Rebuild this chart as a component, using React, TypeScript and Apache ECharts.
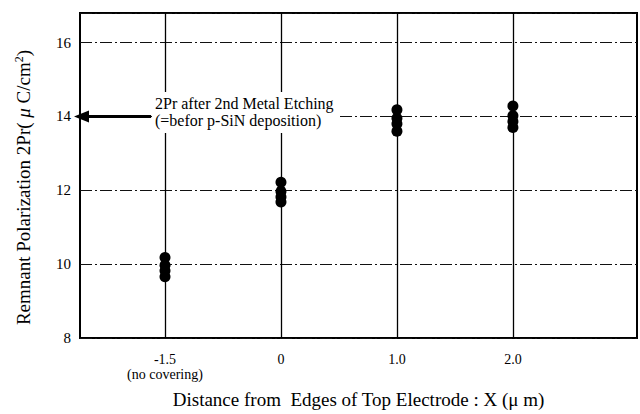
import React, { useEffect, useRef } from "react";
import * as echarts from "echarts";

const xPositions = [0, 1, 2, 3];
const xTickLabels = ["-1.5\n(no covering)", "0", "1.0", "2.0"];
const group0 = [10.18, 9.97, 9.82, 9.66];
const group1 = [12.22, 11.97, 11.82, 11.68];
const group2 = [14.18, 13.95, 13.8, 13.6];
const group3 = [14.28, 14.02, 13.86, 13.7];
const groups = [group0, group1, group2, group3];
const yTicks = [8, 10, 12, 14, 16];
const annotationLines = ["2Pr after 2nd Metal Etching", "(=befor p-SiN deposition)"];

const FONT = "Liberation Serif, Times New Roman, serif";

export default function App() {
  const ref = useRef<HTMLDivElement>(null);
  useEffect(() => {
    if (!ref.current) return;
    const chart = echarts.init(ref.current, undefined, { renderer: "svg" });
    const points: number[][] = [];
    groups.forEach((g, i) => g.forEach((v) => points.push([xPositions[i], v])));
    chart.setOption({
      animation: false,
      backgroundColor: "#ffffff",
      textStyle: { fontFamily: FONT, color: "#000" },
      grid: {
        left: 80,
        top: 13,
        right: 3,
        bottom: 73,
        show: true,
        borderColor: "#000",
        borderWidth: 2,
        containLabel: false,
      },
      xAxis: {
        type: "value",
        min: -0.733,
        max: 4.07,
        axisLine: { show: false },
        axisTick: { show: false },
        splitLine: { show: false },
        axisLabel: {
          customValues: xPositions,
          formatter: (v: number) => {
            const idx = xPositions.indexOf(Math.round(v));
            return idx >= 0 ? xTickLabels[idx] : "";
          },
          margin: 14,
          fontSize: 14,
          lineHeight: 15,
          color: "#000",
          fontFamily: FONT,
        },
        name: "Distance from  Edges of Top Electrode : X (\u03bc m)",
        nameLocation: "middle",
        nameGap: 52,
        nameTextStyle: { fontSize: 19, color: "#000", fontFamily: FONT },
      },
      yAxis: {
        type: "value",
        min: 8,
        max: 16.8,
        interval: 2,
        axisLine: { show: false },
        axisTick: { show: false },
        axisLabel: {
          customValues: yTicks,
          margin: 9,
          fontSize: 15,
          color: "#000",
          fontFamily: FONT,
        },
        splitLine: {
          show: true,
          lineStyle: { color: "#111", width: 1, type: [12, 3, 2, 3] },
        },
        name: "{n|Remnant Polarization 2Pr( }{i|\u03bc}{n| C/cm}{s|2}{n|)}",
        nameLocation: "middle",
        nameGap: 46,
        nameTextStyle: {
          fontSize: 19,
          color: "#000",
          fontFamily: FONT,
          padding: [0, 24, 0, 0],
          rich: {
            n: { fontSize: 19, fontFamily: FONT, color: "#000" },
            i: { fontSize: 19, fontFamily: FONT, fontStyle: "italic", color: "#000" },
            s: { fontSize: 12, fontFamily: FONT, color: "#000", verticalAlign: "top", padding: [0, 0, 9, 0] },
          },
        },
      },
      series: [
        {
          type: "scatter",
          data: points,
          symbol: "circle",
          symbolSize: 11,
          itemStyle: { color: "#000", opacity: 1 },
          z: 5,
          markLine: {
            silent: true,
            symbol: "none",
            label: { show: false },
            lineStyle: { color: "#000", width: 1.3, type: "solid" },
            data: xPositions.map((x) => ({ xAxis: x })),
          },
        },
        {
          type: "line",
          data: [],
          markLine: {
            silent: true,
            symbol: ["none", "triangle"],
            symbolSize: [12, 15],
            label: { show: false },
            lineStyle: { color: "#000", width: 3, type: "solid", opacity: 1 },
            data: [[{ coord: [-0.12, 14] }, { coord: [-0.72, 14] }]],
          },
        },
      ],
      graphic: [
        {
          type: "text",
          left: 152,
          top: 92,
          z: 100,
          style: {
            text: annotationLines.join("\n"),
            fontSize: 16,
            lineHeight: 17,
            fontFamily: FONT,
            fill: "#000",
            backgroundColor: "#fff",
            padding: [3, 4, 4, 3],
          },
        },
      ],
    });
    return () => chart.dispose();
  }, []);
  return (
    <div
      ref={ref}
      style={{ position: "absolute", left: 0, top: 0, width: 640, height: 414 }}
    />
  );
}
